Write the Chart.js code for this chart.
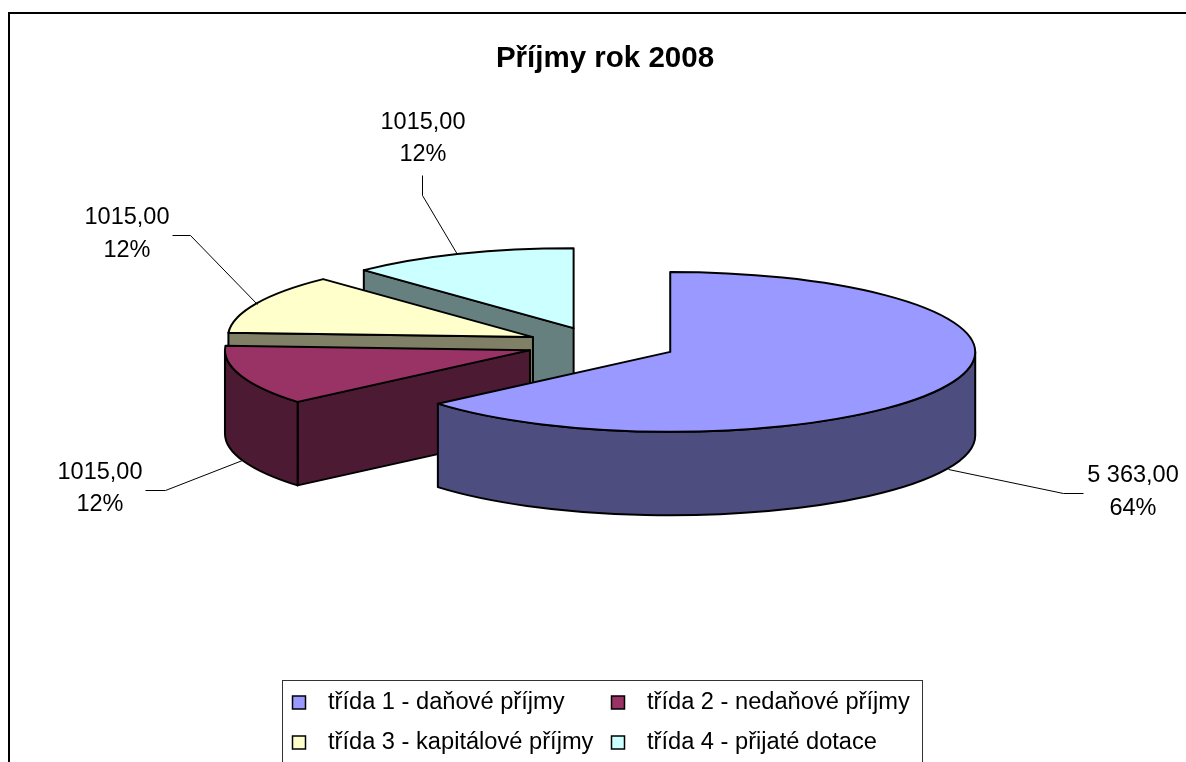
<!DOCTYPE html>
<html><head><meta charset="utf-8">
<style>html,body{margin:0;padding:0;background:#fff;overflow:hidden}canvas{display:block}</style>
<script src="https://cdn.jsdelivr.net/npm/chart.js@4/dist/chart.umd.js"></script>
</head><body><canvas id="c" width="1186" height="762"></canvas>
<script>
const titleText = 'Příjmy rok 2008';
const categories = ['třída 1 - daňové příjmy','třída 2 - nedaňové příjmy','třída 3 - kapitálové příjmy','třída 4 - přijaté dotace'];
const values = [5363,1015,1015,1015];
const valueLabels = ['5 363,00','1015,00','1015,00','1015,00'];
const percentLabels = ['64%','12%','12%','12%'];
const topColors = ['#9999FF','#993366','#FFFFCC','#CCFFFF'];
const wallColors = ['#4D4D80','#4D1A33','#808066','#668080'];

/* layout / style only */
const FONT = '"Liberation Sans", Arial, sans-serif';
const squash = 0.262, explodeSquash = 0.233, depth = 83.5, explodeOffset = 302.4, pieShiftX = -3.4;
const labelCenters = [[1133,476,509],[100,473,505],[127,218,251],[423,123,155]];
const leaders = [
  [[948,469],[1063,493],[1083,493]],
  [[242,460],[165,490],[145,490]],
  [[257,304],[190,235],[172,235]],
  [[457,254],[422,195],[422,175]]
];
const legendBox = {l:282,t:680,r:922,b:780};
const legendItems = [[292,702.5],[611,702.5],[292,742.5],[611,742.5]];
const legendTextGap = [36,36,36,36];

const pie3d = {
  id:'pie3d',
  beforeDraw(chart){
    const c = chart.ctx;
    c.save();
    c.fillStyle='#fff'; c.fillRect(0,0,chart.width,chart.height);
    c.fillStyle='#000';
    c.fillRect(8,12,chart.width-8,2);
    c.fillRect(8,12,2,chart.height-12);
    c.restore();
  },
  beforeDatasetDraw(chart,args){
    const c = chart.ctx, arcs = chart.getDatasetMeta(args.index).data;
    c.save();
    c.lineJoin='round'; c.lineWidth=2; c.strokeStyle='#000';
    for(let i=arcs.length-1;i>=0;i--){
      const a = arcs[i], s=a.startAngle, e=a.endAngle, r=a.outerRadius, ry=r*squash;
      const half=(s+e)/2, off=a.options.offset/4;
      const cx=a.x+pieShiftX+Math.cos(half)*off, cy=a.y+Math.sin(half)*off*explodeSquash;
      const pt=t=>[cx+Math.cos(t)*r, cy+Math.sin(t)*ry];
      const shape=build=>{c.beginPath();build();c.closePath();c.fill();c.stroke();};
      c.fillStyle=wallColors[i];
      const radial=t=>{const p=pt(t);shape(()=>{c.moveTo(cx,cy);c.lineTo(p[0],p[1]);c.lineTo(p[0],p[1]+depth);c.lineTo(cx,cy+depth);});};
      if(-Math.cos(s)>1e-6) radial(s);
      if(Math.cos(e)>1e-6) radial(e);
      const TAU=Math.PI*2;
      for(const k of [-1,0,1]){
        const w0=Math.max(s,k*TAU), w1=Math.min(e,k*TAU+Math.PI);
        if(w1>w0) shape(()=>{c.ellipse(cx,cy,r,ry,0,w0,w1);c.ellipse(cx,cy+depth,r,ry,0,w1,w0,true);});
      }
      c.fillStyle=a.options.backgroundColor;
      shape(()=>{c.moveTo(cx,cy);c.ellipse(cx,cy,r,ry,0,s,e);});
    }
    c.restore();
    return false;
  },
  afterDatasetsDraw(chart){
    const c = chart.ctx;
    c.save();
    c.strokeStyle='#000'; c.lineWidth=1;
    leaders.forEach(l=>{
      c.beginPath();
      l.forEach((p,j)=>{const x=p[0]+.5,y=p[1]+.5; j?c.lineTo(x,y):c.moveTo(x,y);});
      c.stroke();
    });
    c.fillStyle='#000'; c.font='23.5px '+FONT; c.textAlign='center'; c.textBaseline='middle';
    labelCenters.forEach((p,i)=>{
      c.fillText(valueLabels[i],p[0],p[1]);
      c.fillText(percentLabels[i],p[0],p[2]);
    });
    /* legend */
    c.fillStyle='#fff';c.strokeStyle='#333';c.lineWidth=1;
    c.fillRect(legendBox.l,legendBox.t,legendBox.r-legendBox.l,legendBox.b-legendBox.t);
    c.strokeRect(legendBox.l+.5,legendBox.t+.5,legendBox.r-legendBox.l,legendBox.b-legendBox.t);
    c.font='23.65px '+FONT; c.textAlign='left';
    c.strokeStyle='#000';c.lineWidth=1.5;
    categories.forEach((t,i)=>{
      const [x,y]=legendItems[i];
      c.fillStyle=topColors[i];
      c.fillRect(x+.5,y-6.5,13,13); c.strokeRect(x+.5,y-6.5,13,13);
      c.fillStyle='#000';
      c.fillText(t,x+legendTextGap[i],y);
    });
    c.restore();
  }
};

new Chart(document.getElementById('c'),{
  type:'pie',
  data:{labels:categories,datasets:[{data:values,backgroundColor:topColors,borderWidth:0,offset:explodeOffset,radius:305}]},
  options:{
    responsive:false,animation:false,
    layout:{padding:{left:24,right:0,top:17,bottom:157.4}},
    plugins:{
      legend:{display:false},tooltip:{enabled:false},
      title:{display:true,text:titleText,color:'#000',font:{family:FONT,size:29.5,weight:'bold',lineHeight:1.2},padding:{top:24.3,bottom:7.7}}
    }
  },
  plugins:[pie3d]
});
</script></body></html>
